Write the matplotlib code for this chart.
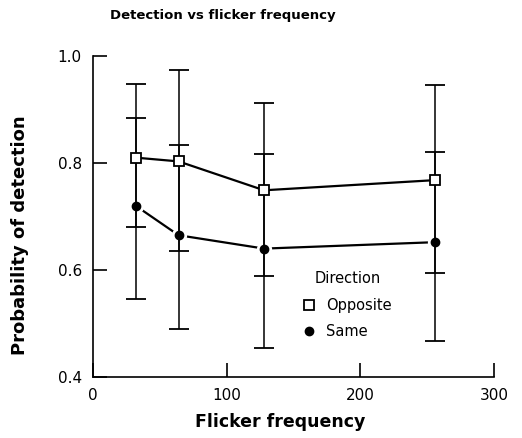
import numpy as np
import matplotlib.pyplot as plt

freq = [32, 64, 128, 256]

opp_mean = [0.810, 0.803, 0.749, 0.768]
opp_lo = [0.680, 0.635, 0.589, 0.595]
opp_hi = [0.948, 0.973, 0.913, 0.945]

same_mean = [0.720, 0.665, 0.640, 0.652]
same_lo = [0.546, 0.490, 0.454, 0.468]
same_hi = [0.885, 0.834, 0.816, 0.820]

fig = plt.figure(figsize=(5.22, 4.38), dpi=100)
ax = fig.add_axes([93 / 522, 1 - 377 / 438, 401 / 522, 321 / 438])

opp_err = [np.subtract(opp_mean, opp_lo), np.subtract(opp_hi, opp_mean)]
same_err = [np.subtract(same_mean, same_lo), np.subtract(same_hi, same_mean)]

# lines (same line has gaps near dots)
ax.plot(freq, opp_mean, color='black', lw=1.6, zorder=2)
ax.plot(freq, same_mean, color='black', lw=1.6, marker='o', ms=10,
        mfc='white', mec='white', zorder=2)

ax.errorbar(freq, opp_mean, yerr=opp_err, fmt='none', ecolor='black',
            elinewidth=1.1, capsize=7, capthick=1.3, zorder=3)
ax.errorbar(freq, same_mean, yerr=same_err, fmt='none', ecolor='black',
            elinewidth=1.1, capsize=7, capthick=1.3, zorder=3)

ax.plot(freq, opp_mean, ls='none', marker='s', ms=7, mfc='white',
        mec='black', mew=1.3, zorder=4, label='Opposite')
ax.plot(freq, same_mean, ls='none', marker='o', ms=6, mfc='black',
        mec='black', zorder=4, label='Same')

ax.set_xlim(0, 300)
ax.set_ylim(0.4, 1.0)
ax.set_xticks([0, 100, 200, 300])
ax.set_yticks([0.4, 0.6, 0.8, 1.0])
ax.set_yticklabels(['0.4', '0.6', '0.8', '1.0'])
ax.tick_params(direction='in', length=10, width=1.2, labelsize=11, pad=8)
for s in ['top', 'right']:
    ax.spines[s].set_visible(False)
for s in ['left', 'bottom']:
    ax.spines[s].set_linewidth(1.2)

leg = ax.legend(title='Direction', frameon=False, fontsize=10.5,
                title_fontsize=10.5, loc='upper left',
                bbox_to_anchor=(290 / 522, 1 - 258 / 438),
                bbox_transform=fig.transFigure, handlelength=0.8,
                handletextpad=0.8, labelspacing=0.8)

fig.text(110 / 522, 1 - 16 / 438, 'Detection vs flicker frequency',
         fontsize=9.5, fontweight='bold', va='center', ha='left')
fig.text(280 / 522, 1 - 422 / 438, 'Flicker frequency', fontsize=12.5,
         fontweight='bold', va='center', ha='center')
fig.text(20 / 522, 1 - 235 / 438, 'Probability of detection', fontsize=13,
         fontweight='bold', va='center', ha='center', rotation=90)

fig.savefig('out.png', dpi=100)
